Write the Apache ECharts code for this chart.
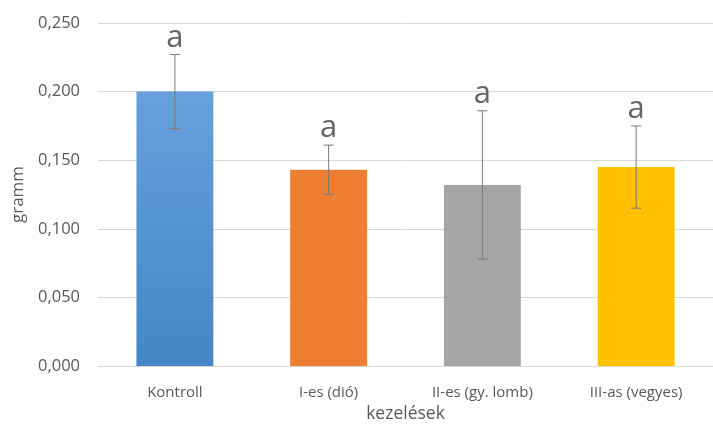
<!DOCTYPE html>
<html>
<head>
<meta charset="utf-8">
<script src="https://cdn.jsdelivr.net/npm/echarts@6/dist/echarts.min.js"></script>
<style>
  html, body { margin: 0; padding: 0; background: #fff; }
  #chart { width: 713px; height: 430px; }
</style>
</head>
<body>
<div id="chart"></div>
<script>
// Treatments and mean dry mass (g) with standard deviation
const categories = ['Kontroll', 'I-es (dió)', 'II-es (gy. lomb)', 'III-as (vegyes)'];
const means = [0.200, 0.143, 0.132, 0.145];
const errors = [0.027, 0.018, 0.054, 0.030];
const letters = ['a', 'a', 'a', 'a'];
const yTicks = { min: 0, max: 0.25, step: 0.05 };

const colors = [
  new echarts.graphic.LinearGradient(0, 0, 0, 1, [
    { offset: 0, color: '#67a0dc' },
    { offset: 1, color: '#4586c7' }
  ]),
  '#ed7d31',
  '#a5a5a5',
  '#ffc000'
];

const FONT = '"Open Sans", Lato, sans-serif';

const chart = echarts.init(document.getElementById('chart'));

chart.setOption({
  animation: false,
  backgroundColor: '#ffffff',
  grid: { left: 98, right: -9, top: 23, bottom: 64 },
  xAxis: {
    type: 'category',
    data: categories,
    name: 'kezelések',
    nameLocation: 'middle',
    nameGap: 39,
    nameTextStyle: { fontFamily: FONT, fontSize: 17.5, color: '#595959' },
    axisLine: { lineStyle: { color: '#d9d9d9' } },
    axisTick: { show: false },
    axisLabel: { fontFamily: FONT, fontSize: 15, color: '#595959', margin: 19 }
  },
  yAxis: {
    type: 'value',
    min: yTicks.min,
    max: yTicks.max,
    interval: yTicks.step,
    name: 'gramm',
    nameLocation: 'middle',
    nameGap: 70,
    nameTextStyle: { fontFamily: FONT, fontSize: 17, color: '#595959' },
    axisLine: { show: false },
    axisTick: { show: false },
    splitLine: { lineStyle: { color: '#d9d9d9', width: 1 } },
    axisLabel: {
      fontFamily: FONT, fontSize: 16.5, color: '#595959', margin: 18,
      formatter: v => v.toFixed(3).replace('.', ',')
    }
  },
  series: [
    {
      type: 'bar',
      data: means.map((v, i) => ({ value: v, itemStyle: { color: colors[i] } })),
      barCategoryGap: '50%',
      z: 2
    },
    {
      // standard deviation whiskers
      type: 'custom',
      data: means.map((v, i) => [i, v - errors[i], v + errors[i]]),
      z: 3,
      renderItem: (params, api) => {
        const x = api.value(0);
        const lo = api.coord([x, api.value(1)]);
        const hi = api.coord([x, api.value(2)]);
        const cap = 5;
        const style = { stroke: '#7a7a7a', lineWidth: 1 };
        return {
          type: 'group',
          children: [
            { type: 'line', shape: { x1: hi[0], y1: hi[1], x2: lo[0], y2: lo[1] }, style },
            { type: 'line', shape: { x1: hi[0] - cap, y1: hi[1], x2: hi[0] + cap, y2: hi[1] }, style },
            { type: 'line', shape: { x1: lo[0] - cap, y1: lo[1], x2: lo[0] + cap, y2: lo[1] }, style }
          ]
        };
      }
    },
    {
      // significance letters above the whiskers
      type: 'scatter',
      data: means.map((v, i) => [i, v + errors[i]]),
      symbolSize: 0,
      z: 4,
      label: {
        show: true,
        position: 'top',
        distance: 1,
        formatter: p => letters[p.dataIndex],
        fontFamily: FONT,
        fontSize: 31,
        lineHeight: 31,
        color: '#404040'
      }
    }
  ]
});
</script>
</body>
</html>
